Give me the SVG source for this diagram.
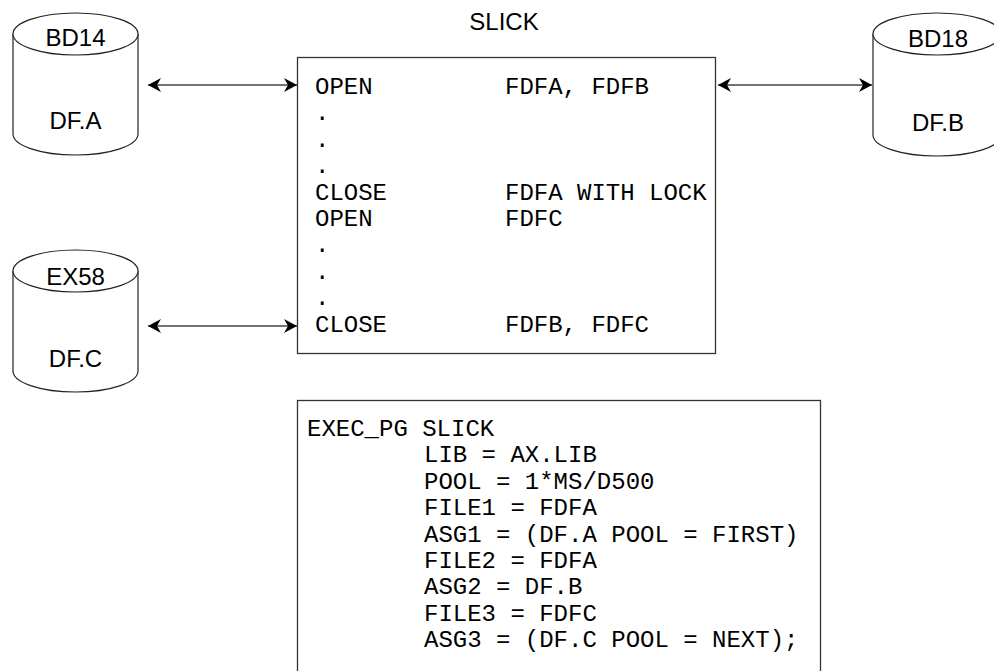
<svg xmlns="http://www.w3.org/2000/svg" width="994" height="671" viewBox="0 0 994 671">
<style>
.cyl{fill:#fff;stroke:#222;stroke-width:1.2}
.box{fill:#fff;stroke:#333;stroke-width:1.3}
.lbl{font-family:"Liberation Sans",Arial,sans-serif;font-size:24px;fill:#000;text-anchor:middle}
.code{font-family:"Liberation Mono","Courier New",monospace;font-size:24px;fill:#000}
.conn{stroke:#444;stroke-width:1.4;fill:none;marker-start:url(#ah);marker-end:url(#ah)}
</style>
<defs>
<marker id="ah" viewBox="0 0 14 14" refX="13" refY="7" markerWidth="14" markerHeight="14" markerUnits="userSpaceOnUse" orient="auto-start-reverse">
<path d="M13,7 L0,0 L4,7 L0,14 Z" fill="#000"/>
</marker>
</defs>
<rect width="994" height="671" fill="#fff"/>

<g id="title">
<text class="lbl" x="504" y="30">SLICK</text>
</g>

<g id="BD14">
<path class="cyl" d="M13,34 A62.5,21 0 0 1 138,34 L138,134 A62.5,21 0 0 1 13,134 Z"/>
<path class="cyl" fill="none" d="M13,34 A62.5,21 0 0 0 138,34"/>
<text class="lbl" x="75.5" y="46">BD14</text>
<text class="lbl" x="75.5" y="129">DF.A</text>
</g>

<g id="BD18">
<path class="cyl" d="M873,34 A64,21 0 0 1 1001,34 L1001,135 A64,21 0 0 1 873,135 Z"/>
<path class="cyl" fill="none" d="M873,34 A64,21 0 0 0 1001,34"/>
<text class="lbl" x="938" y="47">BD18</text>
<text class="lbl" x="938" y="131">DF.B</text>
</g>

<g id="EX58">
<path class="cyl" d="M13,271 A62.5,21 0 0 1 138,271 L138,371 A62.5,21 0 0 1 13,371 Z"/>
<path class="cyl" fill="none" d="M13,271 A62.5,21 0 0 0 138,271"/>
<text class="lbl" x="75.5" y="285">EX58</text>
<text class="lbl" x="75.5" y="367">DF.C</text>
</g>

<g id="program">
<rect class="box" x="297.5" y="57.5" width="418" height="296"/>
<text class="code" x="315" y="94">OPEN</text><text class="code" x="505" y="94">FDFA, FDFB</text>
<text class="code" x="315" y="120.4">.</text>
<text class="code" x="315" y="146.8">.</text>
<text class="code" x="315" y="173.2">.</text>
<text class="code" x="315" y="199.6">CLOSE</text><text class="code" x="505" y="199.6">FDFA WITH LOCK</text>
<text class="code" x="315" y="226">OPEN</text><text class="code" x="505" y="226">FDFC</text>
<text class="code" x="315" y="252.4">.</text>
<text class="code" x="315" y="278.8">.</text>
<text class="code" x="315" y="305.2">.</text>
<text class="code" x="315" y="331.6">CLOSE</text><text class="code" x="505" y="331.6">FDFB, FDFC</text>
</g>

<g id="exec">
<rect class="box" x="297.5" y="400.5" width="523" height="300"/>
<text class="code" x="307" y="436" xml:space="preserve">EXEC_PG SLICK</text>
<text class="code" x="424" y="462.4">LIB = AX.LIB</text>
<text class="code" x="424" y="488.8">POOL = 1*MS/D500</text>
<text class="code" x="424" y="515.2">FILE1 = FDFA</text>
<text class="code" x="424" y="541.6">ASG1 = (DF.A POOL = FIRST)</text>
<text class="code" x="424" y="568">FILE2 = FDFA</text>
<text class="code" x="424" y="594.4">ASG2 = DF.B</text>
<text class="code" x="424" y="620.8">FILE3 = FDFC</text>
<text class="code" x="424" y="647.2">ASG3 = (DF.C POOL = NEXT);</text>
</g>

<g id="connectors">
<line class="conn" x1="148" y1="85" x2="297" y2="85"/>
<line class="conn" x1="718" y1="85" x2="872" y2="85"/>
<line class="conn" x1="148" y1="326" x2="297" y2="326"/>
</g>
</svg>
